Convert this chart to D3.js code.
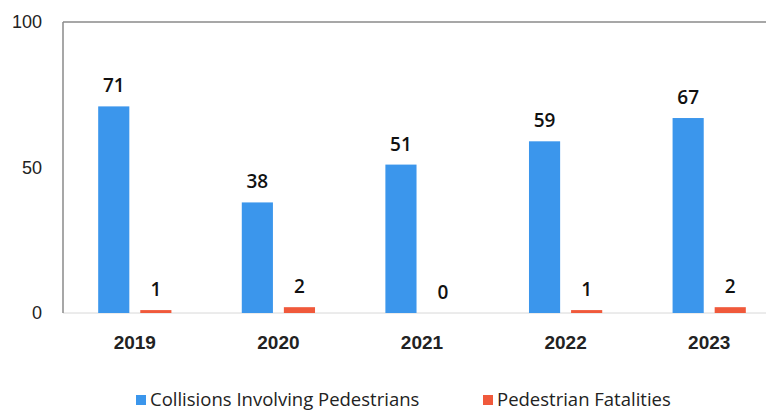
<!DOCTYPE html>
<html>
<head>
<meta charset="utf-8">
<script src="https://cdn.jsdelivr.net/npm/d3@7"></script>
<style>
  body { margin: 0; background: #fff; }
  svg { display: block; font-family: "Open Sans", sans-serif; }
  .tick text { fill: #222; }
</style>
</head>
<body>
<div id="chart"></div>
<script>
// data
var years = ['2019', '2020', '2021', '2022', '2023'];
var collisions = [71, 38, 51, 59, 67];
var fatalities = [1, 2, 0, 1, 2];
var seriesNames = ['Collisions Involving Pedestrians', 'Pedestrian Fatalities'];
var seriesColors = ['#3b96ec', '#f0593b'];
var yTicks = [0, 50, 100];

var width = 766;
var height = 411;
var margin = { top: 22, right: -15, bottom: 98, left: 63 };
var w = width - margin.left - margin.right;
var h = height - margin.top - margin.bottom;

var svg = d3.select('#chart').append('svg')
  .attr('width', width).attr('height', height);

var g = svg.append('g')
  .attr('transform', 'translate(' + margin.left + ',' + margin.top + ')');

var x0 = d3.scaleBand().domain(years).range([0, w]).paddingInner(0.49).paddingOuter(0.245);
var x1 = d3.scaleBand().domain([0, 1]).range([0, x0.bandwidth()]).paddingInner(0.26);
var y = d3.scaleLinear().domain([0, 100]).range([h, 0]);

// frame lines
g.append('line').attr('x1', 0).attr('x2', width).attr('y1', 0).attr('y2', 0)
  .attr('stroke', '#8a8a8a').attr('stroke-width', 1.5);
g.append('line').attr('x1', 0).attr('x2', width).attr('y1', h).attr('y2', h)
  .attr('stroke', '#d8d8d8').attr('stroke-width', 1);
g.append('line').attr('x1', 0).attr('x2', 0).attr('y1', 0).attr('y2', h)
  .attr('stroke', '#8a8a8a').attr('stroke-width', 1.5);

// y axis
var yAxis = g.append('g')
  .call(d3.axisLeft(y).tickValues(yTicks).tickSize(0).tickPadding(21));
yAxis.select('.domain').remove();
yAxis.selectAll('text').attr('font-size', 18);

// x axis
var xAxis = g.append('g')
  .attr('transform', 'translate(0,' + h + ')')
  .call(d3.axisBottom(x0).tickSize(0).tickPadding(23));
xAxis.select('.domain').remove();
xAxis.selectAll('text').attr('font-size', 19).attr('font-weight', 600);

var data = years.map(function(yr, i) {
  return { year: yr, values: [collisions[i], fatalities[i]] };
});

var groups = g.selectAll('.grp').data(data).enter().append('g')
  .attr('class', 'grp')
  .attr('transform', function(d) { return 'translate(' + x0(d.year) + ',0)'; });

groups.selectAll('rect').data(function(d) { return d.values; }).enter().append('rect')
  .attr('x', function(d, i) { return x1(i); })
  .attr('width', x1.bandwidth())
  .attr('y', function(d) { return y(d); })
  .attr('height', function(d) { return h - y(d); })
  .attr('fill', function(d, i) { return seriesColors[i]; });

groups.selectAll('.val').data(function(d) { return d.values; }).enter().append('text')
  .attr('class', 'val')
  .attr('x', function(d, i) { return x1(i) + x1.bandwidth() / 2; })
  .attr('y', function(d) { return y(d) - 14; })
  .attr('text-anchor', 'middle')
  .attr('font-size', 19)
  .attr('font-weight', 600)
  .attr('fill', '#111')
  .text(function(d) { return d; });

// legend
var legendX = [136, 483];
var legend = svg.selectAll('.leg').data(seriesNames).enter().append('g')
  .attr('class', 'leg')
  .attr('transform', function(d, i) { return 'translate(' + legendX[i] + ',395)'; });
legend.append('rect').attr('width', 10).attr('height', 10).attr('y', 0)
  .attr('fill', function(d, i) { return seriesColors[i]; });
legend.append('text').attr('x', 14).attr('y', 11)
  .attr('font-size', 18.5).attr('fill', '#222')
  .text(function(d) { return d; });
</script>
</body>
</html>
